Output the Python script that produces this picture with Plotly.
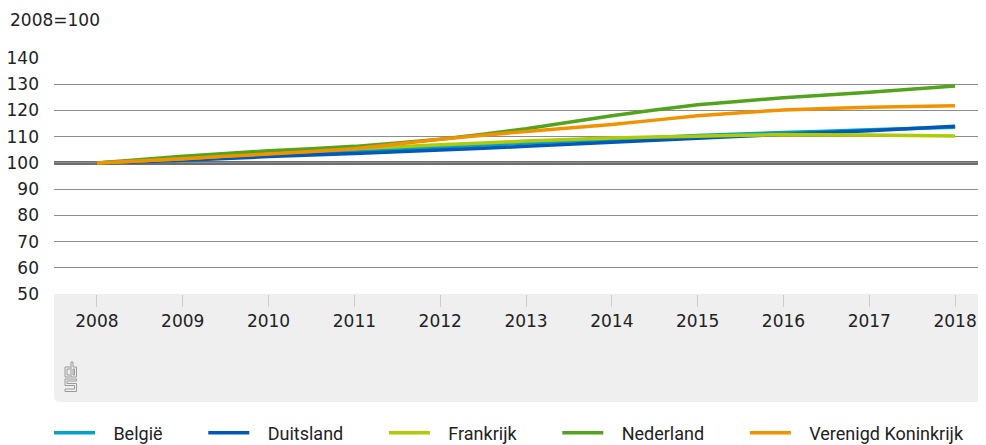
import plotly.graph_objects as go

years = [2008, 2009, 2010, 2011, 2012, 2013, 2014, 2015, 2016, 2017, 2018]
belgie = [100, 101.5, 103.0, 104.5, 106.0, 107.6, 109.0, 110.4, 111.6, 112.6, 113.6]
duitsland = [100, 101.0, 102.4, 103.6, 104.9, 106.3, 107.9, 109.4, 110.9, 112.3, 114.0]
frankrijk = [100, 101.6, 103.6, 105.4, 106.9, 108.3, 109.5, 110.2, 110.8, 110.6, 110.3]
nederland = [100, 102.5, 104.6, 106.3, 109.0, 113.0, 118.0, 122.2, 124.8, 126.9, 129.3]
verenigd = [100, 101.6, 103.4, 105.4, 109.0, 112.0, 114.6, 118.0, 120.2, 121.2, 121.8]

series_names = ["België", "Duitsland", "Frankrijk", "Nederland", "Verenigd Koninkrijk"]
series_values = [belgie, duitsland, frankrijk, nederland, verenigd]
series_colors = ["#00A1CD", "#0058B8", "#AFCB05", "#53A31D", "#F39200"]
y_ticks = [50, 60, 70, 80, 90, 100, 110, 120, 130, 140]
y_title = "2008=100"

# page has an 8px body margin: figure sits at (8, 8)
OFF = 8
W, H = 986 - OFF, 445 - OFF
PL, PT, PB, PR = 54, 58, 294, 986
L = PL - OFF
T = PT - OFF
B = (445 - OFF) - (PB - OFF)
R = 0
pw = W - L - R
ph = H - T - B

NB = "\u00a0"
fig = go.Figure()
for i, (name, vals, col) in enumerate(zip(series_names, series_values, series_colors)):
    trail = NB * 8 if i < len(series_names) - 1 else ""
    fig.add_trace(go.Scatter(
        x=years, y=vals, mode="lines", name=NB * 3 + name + trail,
        line=dict(color=col, width=3.5, shape="spline", smoothing=0.3),
        hoverinfo="x+y",
    ))

def px(xp):
    return (xp - PL) / pw

def py(yp):
    return (PB - yp) / ph

shapes = []
y_top = py(294)
y_bot = py(402)
r = 6
shapes.append(dict(
    type="path", xref="paper", yref="paper", layer="below",
    path=(f"M {px(54)},{y_top} L {px(986)},{y_top} L {px(986)},{y_bot} "
          f"L {px(54+r)},{y_bot} Q {px(54)},{y_bot} {px(54)},{py(402-r)} Z"),
    fillcolor="#EFEFEF", line=dict(width=0),
))
shapes.append(dict(type="line", xref="paper", yref="y", x0=0, x1=1, y0=100, y1=100,
                   line=dict(color="#6E6E6E", width=4), layer="below"))

# cbs logo (decoration), drawn as outlined paths
def poly(points, closed=False):
    d = "M " + " L ".join(f"{px(x)},{py(y)}" for x, y in points)
    if closed:
        d += " Z"
    shapes.append(dict(type="path", xref="paper", yref="paper", path=d,
                       line=dict(color="#9A9A9A", width=1)))

poly([(70.5, 367), (65, 367), (65, 377), (70.5, 377)])
poly([(70.5, 369), (67, 369), (67, 375), (70.5, 375)])
poly([(71, 362), (71, 377), (76.5, 377), (76.5, 367), (73, 367), (73, 362)], closed=True)
poly([(73, 369), (74.5, 369), (74.5, 375), (73, 375)], closed=True)
poly([(76.5, 379), (65, 379), (65, 385.5), (74.5, 385.5), (74.5, 389), (65, 389),
      (65, 391.5), (76.5, 391.5), (76.5, 383.5), (67, 383.5), (67, 381), (76.5, 381)], closed=True)

fig.update_layout(
    width=W, height=H,
    margin=dict(l=L, r=R, t=T, b=B, pad=0, autoexpand=False),
    paper_bgcolor="white", plot_bgcolor="white",
    font=dict(family="DejaVu Sans", size=17, color="#222222"),
    showlegend=True,
    legend=dict(
        orientation="h", x=px(49), xanchor="left", y=py(433), yanchor="middle",
        font=dict(family="Roboto", size=18, color="#222222"),
        itemwidth=41, tracegroupgap=0, bgcolor="rgba(0,0,0,0)",
    ),
    xaxis=dict(
        range=[2007.5, 2018.36], tickmode="array", tickvals=years,
        ticktext=[str(y) for y in years], automargin=False,
        showgrid=False, zeroline=False, showline=False,
        ticks="outside", ticklen=12, tickcolor="#CCCCCC", tickwidth=1,
        tickfont=dict(family="DejaVu Sans", size=17, color="#222222"),
    ),
    yaxis=dict(
        range=[50, 140], tickmode="array", tickvals=y_ticks, automargin=False,
        showgrid=True, gridcolor="#8C8C8C", gridwidth=1,
        zeroline=False, showline=False, ticks="", ticklabelstandoff=14,
        tickfont=dict(family="DejaVu Sans", size=17, color="#222222"),
    ),
    shapes=shapes,
    annotations=[dict(text=y_title, xref="paper", yref="paper", x=px(8), y=py(20),
                      xanchor="left", yanchor="middle", showarrow=False,
                      font=dict(family="DejaVu Sans", size=17, color="#222222"))],
)

fig.write_html("out.html")
